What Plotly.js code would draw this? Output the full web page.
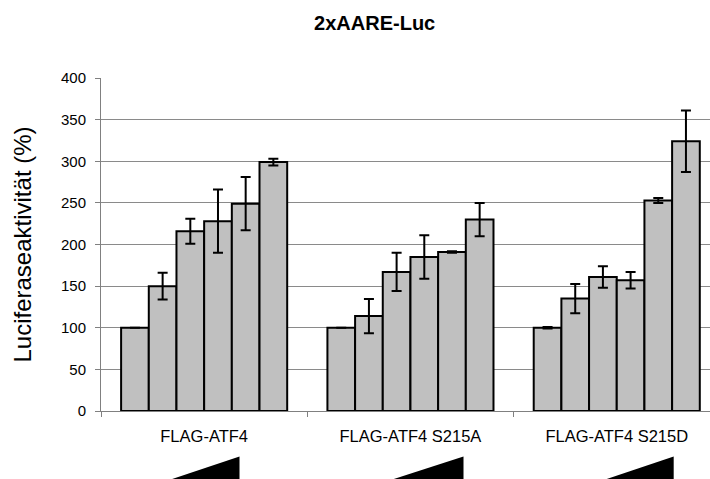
<!DOCTYPE html>
<html>
<head>
<meta charset="utf-8">
<script src="https://cdn.plot.ly/plotly-3.0.1.min.js"></script>
<style>
  html, body { margin: 0; padding: 0; background: #fff; }
  #chart { width: 710px; height: 479px; }
</style>
</head>
<body>
<div id="chart"></div>
<script>
// Constructs tested in the luciferase reporter assay
const constructs = ['FLAG-ATF4', 'FLAG-ATF4 S215A', 'FLAG-ATF4 S215D'];

// Relative luciferase activity (%) for six increasing plasmid amounts
const dose1 = [100, 100, 100];
const dose2 = [150, 114, 135];
const dose3 = [216, 167, 161];
const dose4 = [228, 185, 157];
const dose5 = [249, 191, 253];
const dose6 = [299, 230, 324];

// Standard deviations
const sd1 = [0, 0, 1];
const sd2 = [16, 20.5, 17.5];
const sd3 = [15, 23, 13];
const sd4 = [38, 26, 10];
const sd5 = [32, 1, 3];
const sd6 = [4, 20, 37];

const yTicks = [0, 50, 100, 150, 200, 250, 300, 350, 400];

const doses = [dose1, dose2, dose3, dose4, dose5, dose6];
const sds = [sd1, sd2, sd3, sd4, sd5, sd6];

const traces = doses.map((vals, i) => ({
  type: 'bar',
  x: constructs,
  y: vals,
  name: 'Dosis ' + (i + 1),
  marker: { color: '#c0c0c0', line: { color: '#000', width: 2 } },
  error_y: { type: 'data', array: sds[i], visible: true, color: '#000', thickness: 2, width: 5 },
  hoverinfo: 'x+y'
}));

// Wedges indicating the increasing amount of transfected plasmid
function wedge(x0, x1) {
  return {
    type: 'path', xref: 'x', yref: 'paper',
    path: `M ${x0} -0.215 L ${x1} -0.215 L ${x1} -0.1363 Z`,
    fillcolor: '#000', line: { width: 0 }
  };
}

const layout = {
  width: 710, height: 479,
  margin: { l: 101, r: 0, t: 78, b: 68 },
  paper_bgcolor: '#fff', plot_bgcolor: '#fff',
  showlegend: false,
  barmode: 'group',
  bargap: 0.195,
  bargroupgap: 0,
  font: { family: 'Liberation Sans, Arial, sans-serif', color: '#000' },
  title: {
    text: '<b>2xAARE-Luc</b>',
    font: { size: 20, family: 'Liberation Sans, Arial, sans-serif', color: '#000' },
    xref: 'container', x: 0.5277, xanchor: 'center',
    yref: 'container', y: 0.951, yanchor: 'middle'
  },
  xaxis: {
    type: 'category',
    range: [-0.5, 2.452],
    tickson: 'boundaries',
    ticks: 'outside', ticklen: 5, tickcolor: '#808080', tickwidth: 1,
    showline: true, linecolor: '#808080', linewidth: 1,
    showgrid: false,
    tickfont: { size: 16.5, color: '#000' },
    ticklabelstandoff: 10,
    fixedrange: true
  },
  yaxis: {
    range: [0, 400],
    tickvals: yTicks,
    ticks: 'outside', ticklen: 5, tickcolor: '#808080', tickwidth: 1,
    showline: true, linecolor: '#808080', linewidth: 1,
    showgrid: true, gridcolor: '#8a8a8a', gridwidth: 1,
    zeroline: false,
    tickfont: { size: 15, color: '#000' },
    ticklabelstandoff: 6,
    title: { text: 'Luciferaseaktivität (%)', font: { size: 24, color: '#000' }, standoff: 22 },
    fixedrange: true
  },
  shapes: [
    wedge(-0.2067, 0.1713),
    wedge(0.866, 1.257),
    wedge(1.900, 2.276)
  ]
};

Plotly.newPlot('chart', traces, layout, { displayModeBar: false, staticPlot: true });
</script>
</body>
</html>
